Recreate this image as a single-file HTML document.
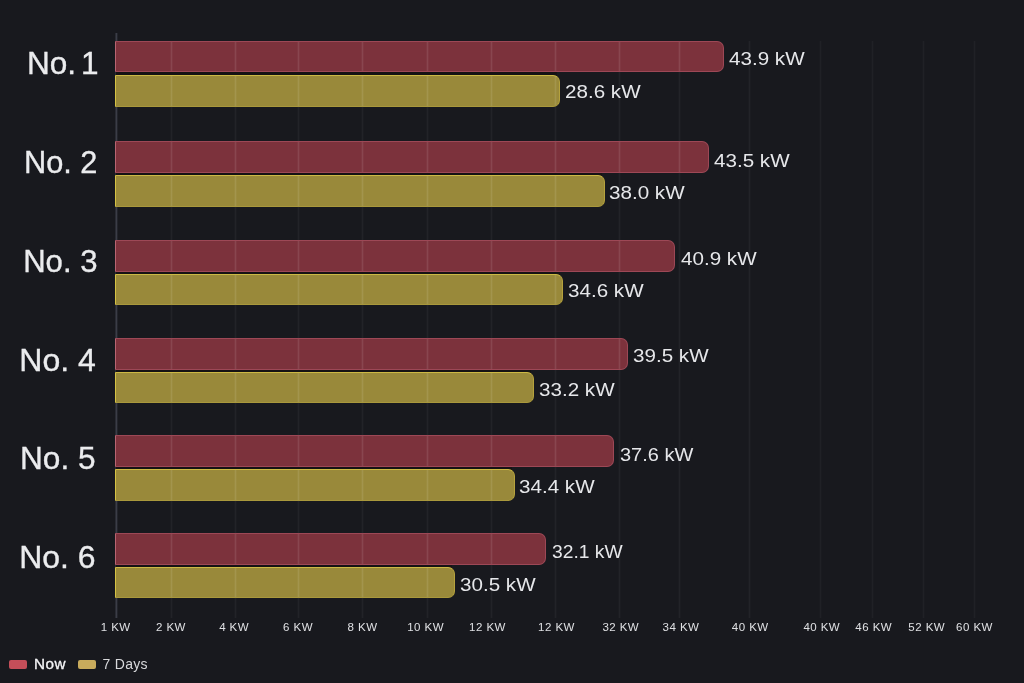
<!DOCTYPE html>
<html><head><meta charset="utf-8"><title>Power</title>
<style>
html,body{margin:0;padding:0;}
body{width:1024px;height:683px;background:#18191e;overflow:hidden;position:relative;font-family:"Liberation Sans",sans-serif;color:#e6e7ea;}
.b{position:absolute;left:115px;box-sizing:border-box;border-radius:0 7px 7px 0;}
.r{background:linear-gradient(rgba(255,255,255,.07),rgba(255,255,255,.07)) 55px 0/1px 100% no-repeat,linear-gradient(rgba(255,255,255,.03),rgba(255,255,255,.03)) 54px 0/3px 100% no-repeat,linear-gradient(rgba(255,255,255,.07),rgba(255,255,255,.07)) 119px 0/1px 100% no-repeat,linear-gradient(rgba(255,255,255,.03),rgba(255,255,255,.03)) 118px 0/3px 100% no-repeat,linear-gradient(rgba(255,255,255,.07),rgba(255,255,255,.07)) 182px 0/1px 100% no-repeat,linear-gradient(rgba(255,255,255,.03),rgba(255,255,255,.03)) 181px 0/3px 100% no-repeat,linear-gradient(rgba(255,255,255,.07),rgba(255,255,255,.07)) 246px 0/1px 100% no-repeat,linear-gradient(rgba(255,255,255,.03),rgba(255,255,255,.03)) 245px 0/3px 100% no-repeat,linear-gradient(rgba(255,255,255,.07),rgba(255,255,255,.07)) 311px 0/1px 100% no-repeat,linear-gradient(rgba(255,255,255,.03),rgba(255,255,255,.03)) 310px 0/3px 100% no-repeat,linear-gradient(rgba(255,255,255,.07),rgba(255,255,255,.07)) 375px 0/1px 100% no-repeat,linear-gradient(rgba(255,255,255,.03),rgba(255,255,255,.03)) 374px 0/3px 100% no-repeat,linear-gradient(rgba(255,255,255,.07),rgba(255,255,255,.07)) 439px 0/1px 100% no-repeat,linear-gradient(rgba(255,255,255,.03),rgba(255,255,255,.03)) 438px 0/3px 100% no-repeat,linear-gradient(rgba(255,255,255,.07),rgba(255,255,255,.07)) 503px 0/1px 100% no-repeat,linear-gradient(rgba(255,255,255,.03),rgba(255,255,255,.03)) 502px 0/3px 100% no-repeat,linear-gradient(rgba(255,255,255,.07),rgba(255,255,255,.07)) 563px 0/1px 100% no-repeat,linear-gradient(rgba(255,255,255,.03),rgba(255,255,255,.03)) 562px 0/3px 100% no-repeat,#7c323c;border:1px solid #9d4856;border-left-color:#b86572;}
.y{background:linear-gradient(rgba(255,255,255,.07),rgba(255,255,255,.07)) 55px 0/1px 100% no-repeat,linear-gradient(rgba(255,255,255,.03),rgba(255,255,255,.03)) 54px 0/3px 100% no-repeat,linear-gradient(rgba(255,255,255,.07),rgba(255,255,255,.07)) 119px 0/1px 100% no-repeat,linear-gradient(rgba(255,255,255,.03),rgba(255,255,255,.03)) 118px 0/3px 100% no-repeat,linear-gradient(rgba(255,255,255,.07),rgba(255,255,255,.07)) 182px 0/1px 100% no-repeat,linear-gradient(rgba(255,255,255,.03),rgba(255,255,255,.03)) 181px 0/3px 100% no-repeat,linear-gradient(rgba(255,255,255,.07),rgba(255,255,255,.07)) 246px 0/1px 100% no-repeat,linear-gradient(rgba(255,255,255,.03),rgba(255,255,255,.03)) 245px 0/3px 100% no-repeat,linear-gradient(rgba(255,255,255,.07),rgba(255,255,255,.07)) 311px 0/1px 100% no-repeat,linear-gradient(rgba(255,255,255,.03),rgba(255,255,255,.03)) 310px 0/3px 100% no-repeat,linear-gradient(rgba(255,255,255,.07),rgba(255,255,255,.07)) 375px 0/1px 100% no-repeat,linear-gradient(rgba(255,255,255,.03),rgba(255,255,255,.03)) 374px 0/3px 100% no-repeat,linear-gradient(rgba(255,255,255,.07),rgba(255,255,255,.07)) 439px 0/1px 100% no-repeat,linear-gradient(rgba(255,255,255,.03),rgba(255,255,255,.03)) 438px 0/3px 100% no-repeat,linear-gradient(rgba(255,255,255,.07),rgba(255,255,255,.07)) 503px 0/1px 100% no-repeat,linear-gradient(rgba(255,255,255,.03),rgba(255,255,255,.03)) 502px 0/3px 100% no-repeat,linear-gradient(rgba(255,255,255,.07),rgba(255,255,255,.07)) 563px 0/1px 100% no-repeat,linear-gradient(rgba(255,255,255,.03),rgba(255,255,255,.03)) 562px 0/3px 100% no-repeat,#99893a;border:1px solid #b5a23d;border-top-color:#cdb944;border-left-color:#d6c244;border-bottom-color:#a9983c;}
.d{position:absolute;left:116px;background:#151214;}
.g{position:absolute;top:41px;height:577px;width:1px;background:rgba(255,255,255,0.048);box-shadow:-1px 0 0 rgba(255,255,255,.016),1px 0 0 rgba(255,255,255,.016);}
.ax{position:absolute;left:116px;top:33px;width:1px;height:585px;background:#3b3d47;box-shadow:-1px 0 0 #2a2c34,1px 0 0 #23252c;}
.v{position:absolute;font-size:18px;line-height:20px;white-space:nowrap;transform-origin:0 50%;transform:scaleX(1.145);color:#e6e7ea;filter:blur(0.3px);}
.c{position:absolute;font-size:32px;line-height:36px;white-space:nowrap;transform-origin:100% 50%;color:#ebecee;text-align:right;filter:blur(0.35px);-webkit-text-stroke:0.35px #ebecee;}
.t{position:absolute;top:619px;width:60px;text-align:center;font-size:11.5px;line-height:16px;color:#dfe0e3;white-space:nowrap;letter-spacing:0.45px;filter:blur(0.25px);}
.lg{position:absolute;font-size:14px;line-height:16px;white-space:nowrap;filter:blur(0.25px);}
.sw{position:absolute;top:660px;width:18px;height:9px;border-radius:2px;}
</style></head><body>

<div class="ax"></div>
<div class="g" style="left:171px"></div>
<div class="g" style="left:235px"></div>
<div class="g" style="left:298px"></div>
<div class="g" style="left:362px"></div>
<div class="g" style="left:427px"></div>
<div class="g" style="left:491px"></div>
<div class="g" style="left:555px"></div>
<div class="g" style="left:619px"></div>
<div class="g" style="left:679px"></div>
<div class="g" style="left:749px"></div>
<div class="g" style="left:820px;opacity:.8"></div>
<div class="g" style="left:872px;opacity:.8"></div>
<div class="g" style="left:923px;opacity:.8"></div>
<div class="g" style="left:974px;opacity:.8"></div>
<div class="d" style="top:71.3px;height:4.3px;width:441.0px"></div>
<div class="d" style="top:171.8px;height:4.2px;width:485.7px"></div>
<div class="d" style="top:270.6px;height:4.2px;width:444.3px"></div>
<div class="d" style="top:368.6px;height:4.4px;width:415.0px"></div>
<div class="d" style="top:465.8px;height:4.4px;width:396.0px"></div>
<div class="d" style="top:564.2px;height:4.2px;width:335.9px"></div>
<div class="b r" style="top:41px;height:31.3px;width:608.5px"></div>
<div class="b y" style="top:74.6px;height:32.4px;width:445.0px"></div>
<div class="b r" style="top:141.2px;height:31.6px;width:593.8px"></div>
<div class="b y" style="top:175px;height:31.8px;width:489.7px"></div>
<div class="b r" style="top:239.8px;height:31.8px;width:560.3px"></div>
<div class="b y" style="top:273.8px;height:31.4px;width:448.3px"></div>
<div class="b r" style="top:337.8px;height:31.8px;width:512.7px"></div>
<div class="b y" style="top:372px;height:31.4px;width:419.0px"></div>
<div class="b r" style="top:435px;height:31.8px;width:498.9px"></div>
<div class="b y" style="top:469.2px;height:31.6px;width:400.0px"></div>
<div class="b r" style="top:533.3px;height:31.9px;width:430.6px"></div>
<div class="b y" style="top:567.4px;height:31.1px;width:339.9px"></div>
<div class="v" style="left:729.2px;top:48.9px">43.9 kW</div>
<div class="v" style="left:564.6px;top:82.3px">28.6 kW</div>
<div class="v" style="left:714.3px;top:150.6px">43.5 kW</div>
<div class="v" style="left:609.1px;top:182.8px">38.0 kW</div>
<div class="v" style="left:680.9px;top:248.8px">40.9 kW</div>
<div class="v" style="left:567.6px;top:281.4px">34.6 kW</div>
<div class="v" style="left:633.2px;top:346.4px">39.5 kW</div>
<div class="v" style="left:538.6px;top:380.3px">33.2 kW</div>
<div class="v" style="left:620.1px;top:444.6px;transform:scaleX(1.11)">37.6 kW</div>
<div class="v" style="left:519.1px;top:477.1px">34.4 kW</div>
<div class="v" style="left:551.6px;top:542.1px;transform:scaleX(1.07)">32.1 kW</div>
<div class="v" style="left:459.5px;top:574.6px">30.5 kW</div>
<div class="c" style="right:925.5px;top:44.7px;transform:scaleX(0.986);word-spacing:-4px">No. 1</div>
<div class="c" style="right:926.3px;top:144.3px;transform:scaleX(0.962);">No. 2</div>
<div class="c" style="right:926.3px;top:242.6px;transform:scaleX(0.972);">No. 3</div>
<div class="c" style="right:928.2px;top:341.5px;transform:scaleX(1.000);">No. 4</div>
<div class="c" style="right:928.2px;top:439.9px;transform:scaleX(0.986);">No. 5</div>
<div class="c" style="right:928.6px;top:538.9px;transform:scaleX(0.998);">No. 6</div>
<div class="t" style="left:85.7px">1 KW</div>
<div class="t" style="left:140.9px">2 KW</div>
<div class="t" style="left:204.1px">4 KW</div>
<div class="t" style="left:268.0px">6 KW</div>
<div class="t" style="left:332.5px">8 KW</div>
<div class="t" style="left:395.6px">10 KW</div>
<div class="t" style="left:457.5px">12 KW</div>
<div class="t" style="left:526.5px">12 KW</div>
<div class="t" style="left:590.8px">32 KW</div>
<div class="t" style="left:651.0px">34 KW</div>
<div class="t" style="left:720.2px">40 KW</div>
<div class="t" style="left:791.8px">40 KW</div>
<div class="t" style="left:843.7px">46 KW</div>
<div class="t" style="left:896.7px">52 KW</div>
<div class="t" style="left:944.5px">60 KW</div>
<div class="sw" style="left:9px;background:#c44e59"></div>
<div class="lg" style="left:34px;top:656px;color:#f4f4f6;letter-spacing:0.5px;-webkit-text-stroke:0.3px #f4f4f6;transform:scaleX(1.09);transform-origin:0 50%">Now</div>
<div class="sw" style="left:78.2px;background:#c8ab5c"></div>
<div class="lg" style="left:102.6px;top:656px;color:#d8d9dc;letter-spacing:0.25px">7 Days</div>
</body></html>
